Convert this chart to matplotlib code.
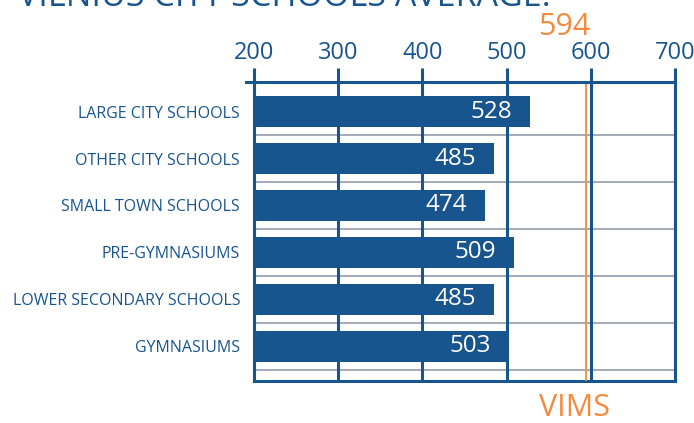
import matplotlib.pyplot as plt

# data
categories = ['LARGE CITY SCHOOLS', 'OTHER CITY SCHOOLS', 'SMALL TOWN SCHOOLS',
              'PRE-GYMNASIUMS', 'LOWER SECONDARY SCHOOLS', 'GYMNASIUMS']
scores = [528, 485, 474, 509, 485, 503]
vims_avg = 594
x_ticks = [200, 300, 400, 500, 600, 700]

blue = '#18558F'
orange = '#F58A3E'
grey = '#A3ABBA'

plt.rcParams['font.family'] = ['Open Sans', 'DejaVu Sans']

fig = plt.figure(figsize=(6.94, 4.23), dpi=100)
ax = fig.add_axes([254 / 694, 1 - 381 / 423, (675 - 254) / 694, (381 - 82) / 423])

ypos = list(range(len(categories)))
ax.set_xlim(200, 700)
ax.set_ylim(5.74, -0.63)

# row separators
for y in ypos:
    ax.axhline(y + 0.5, color=grey, lw=1.4, zorder=1)

# vertical grid lines
for x in x_ticks:
    ax.axvline(x, color=blue, lw=2.2, zorder=2)

ax.barh(ypos, [s - 200 for s in scores], left=200, height=0.65, color=blue, zorder=3)
for y, s in zip(ypos, scores):
    ax.text(s - 21, y, str(s), color='white', fontsize=17.5, ha='right', va='center', zorder=4)

# VIMS average
ax.axvline(vims_avg, color=orange, lw=1.3, zorder=3)
ax.text(vims_avg - 25, -0.63 - 1.18, str(vims_avg), color=orange, fontsize=22,
        ha='center', va='center', clip_on=False)
ax.text(vims_avg - 13, 5.74 + 0.58, 'VIMS', color=orange, fontsize=22,
        ha='center', va='center', clip_on=False)

# frame
for side in ['left', 'right', 'bottom']:
    ax.spines[side].set_color(blue)
    ax.spines[side].set_linewidth(2.2)
ax.spines['top'].set_visible(False)
ax.plot([190, 700], [-0.63, -0.63], color=blue, lw=2.2, clip_on=False, zorder=5)

ax.xaxis.tick_top()
ax.set_xticks(x_ticks)
ax.tick_params(axis='x', length=10, width=2.2, color=blue, labelcolor=blue,
               labelsize=17, pad=2)
ax.set_yticks(ypos)
ax.set_yticklabels(categories)
ax.tick_params(axis='y', length=0, labelcolor=blue, labelsize=11.5, pad=10)

fig.text(18 / 694, 1 - 6 / 423, 'VILNIUS CITY SCHOOLS AVERAGE:', color=blue,
         fontsize=24.5, ha='left', va='baseline')

fig.savefig('out.png', dpi=100)
